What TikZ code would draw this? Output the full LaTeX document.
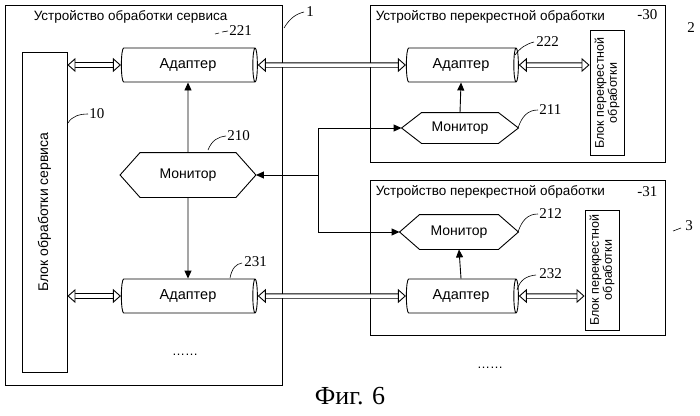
\documentclass[tikz,border=0pt]{standalone}
\usepackage{fontspec}
\setmainfont{Liberation Sans}
\newfontfamily\numf{Liberation Serif}
\usetikzlibrary{shapes.geometric,arrows.meta}
\begin{document}
\begin{tikzpicture}[x=1pt,y=-1pt,line width=0.9pt,
  txt/.style={font=\fontsize{13.5}{15}\selectfont},
  box/.style={draw,rectangle},
  adapter/.style={draw,cylinder,shape aspect=0.35,minimum width=34,minimum height=#1,inner sep=0pt,font=\fontsize{14.5}{16}\selectfont},
  mon/.style={minimum width=#1,minimum height=34,inner sep=0pt,font=\fontsize{14}{16}\selectfont},
  dbl/.style={double,double distance=3.5pt,line width=0.9pt,{Triangle[open,fill=white,length=8pt,width=14pt]}-{Triangle[open,fill=white,length=8pt,width=14pt]}},
  ctl/.style={-{Triangle[length=8pt,width=7pt]},line width=0.9pt},
  num/.style={font=\numf\fontsize{15}{16}\selectfont,anchor=west,inner sep=1pt},
  sq/.style={line width=0.6pt}]
\useasboundingbox (0,0) rectangle (700,415);
\newcommand\hexa[2]{\draw (#1.west) -- ([xshift=#2]#1.north west) -- ([xshift=-#2]#1.north east) -- (#1.east) -- ([xshift=-#2]#1.south east) -- ([xshift=#2]#1.south west) -- cycle;}
% boxes
\node[box,minimum width=277,minimum height=380,anchor=north west] (b1) at (5,5) {};
\node[txt,anchor=west] (t1) at (30,17) {Устройство обработки сервиса};
\node[box,minimum width=295,minimum height=157,anchor=north west] (b30) at (370,5) {};
\node[txt,anchor=west] (t30) at (372,17) {Устройство перекрестной обработки};
\node[box,minimum width=295,minimum height=155,anchor=north west] (b31) at (370,180) {};
\node[txt,anchor=west] (t31) at (372,192) {Устройство перекрестной обработки};
% service block
\node[box,minimum width=320,minimum height=45,rotate=90,font=\fontsize{14}{16}\selectfont] (s10) at (44.5,212) {Блок обработки сервиса};
% adapters
\node[adapter=136] (a221) at (188,65) {Адаптер};
\node[adapter=136] (a231) at (188,296) {Адаптер};
\node[adapter=112] (a222) at (461,65) {Адаптер};
\node[adapter=112] (a232) at (461,296) {Адаптер};
% monitors
\node[mon=135,minimum height=44] (m210) at (188,175) {Монитор};
\hexa{m210}{20}
\node[mon=116,minimum height=30] (m211) at (460,128) {Монитор};
\hexa{m211}{20}
\node[mon=118,minimum height=34] (m212) at (459,232) {Монитор};
\hexa{m212}{20}
% cross blocks
\node[box,minimum width=125,minimum height=34,rotate=90,align=center,font=\fontsize{12.5}{13}\selectfont,inner sep=1pt] (c30) at (607,93) {Блок перекрестной\\обработки};
\node[box,minimum width=120,minimum height=34,rotate=90,align=center,font=\fontsize{12.5}{13}\selectfont,inner sep=1pt] (c31) at (602,270) {Блок перекрестной\\обработки};
% double arrows
\draw[dbl] (s10.south |- a221) -- (a221.west);
\draw[dbl] (s10.south |- a231) -- (a231.west);
\draw[dbl] (a221.east) -- (a222.west);
\draw[dbl] (a231.east) -- (a232.west);
\draw[dbl] (a222.east) -- (c30.north |- a222);
\draw[dbl] (a232.east) -- (c31.north |- a232);
% control arrows
\draw[ctl] (m210.north) -- (a221.south);
\draw[ctl] (m210.south) -- (a231.north);
\draw[ctl] (m211.north) -- (a222.south);
\draw[ctl] (a232.north) -- (m212.south);
\coordinate (j1) at (318,128);
\coordinate (j2) at (318,232);
\draw (j1) -- (j2);
\draw[ctl] (j1) -- (m211.west);
\draw[ctl] (j2) -- (m212.west);
\draw[ctl] (318,175) -- (m210.east);
% labels
\draw[sq] (284,28) .. controls (290,18) and (296,14) .. (304,12); \node[num] (n1) at (305,12) {1};
\draw[sq] (215,34) -- (219,33); \draw[sq] (222,32) -- (228,31); \node[num] (n221) at (228,31) {221};
\draw[sq] (68,123) .. controls (72,116) and (80,114) .. (88,114); \node[num] (n10) at (88,114) {10};
\draw[sq] (208,150) .. controls (212,140) and (218,137) .. (226,136); \node[num] (n210) at (226,136) {210};
\node[num] (n30) at (636,15) {-30};
\draw[sq] (515,55) .. controls (520,48) and (526,44) .. (534,42); \node[num] (n222) at (535,42) {222};
\draw[sq] (518,128) .. controls (522,116) and (528,110) .. (538,110); \node[num] (n211) at (538,110) {211};
\node[num] (n2) at (686,28) {2};
\node[num] (n31) at (636,192) {-31};
\draw[sq] (518,232) .. controls (522,220) and (528,214) .. (538,214); \node[num] (n212) at (538,214) {212};
\draw[sq] (517,290) .. controls (520,280) and (526,276) .. (536,275); \node[num] (n232) at (538,274) {232};
\draw[sq] (230,278) .. controls (232,268) and (236,264) .. (242,263); \node[num] (n231) at (243,262) {231};
\draw[sq] (673,231) -- (681,228); \node[num] (n3) at (684,226) {3};
\node[font=\fontsize{13}{13}\selectfont] (d1) at (185,355) {……};
\node[font=\fontsize{13}{13}\selectfont] (d2) at (490,368) {……};
\node[font=\numf\fontsize{26}{28}\selectfont] (cap) at (350,396) {Фиг. 6};
\end{tikzpicture}
\end{document}
